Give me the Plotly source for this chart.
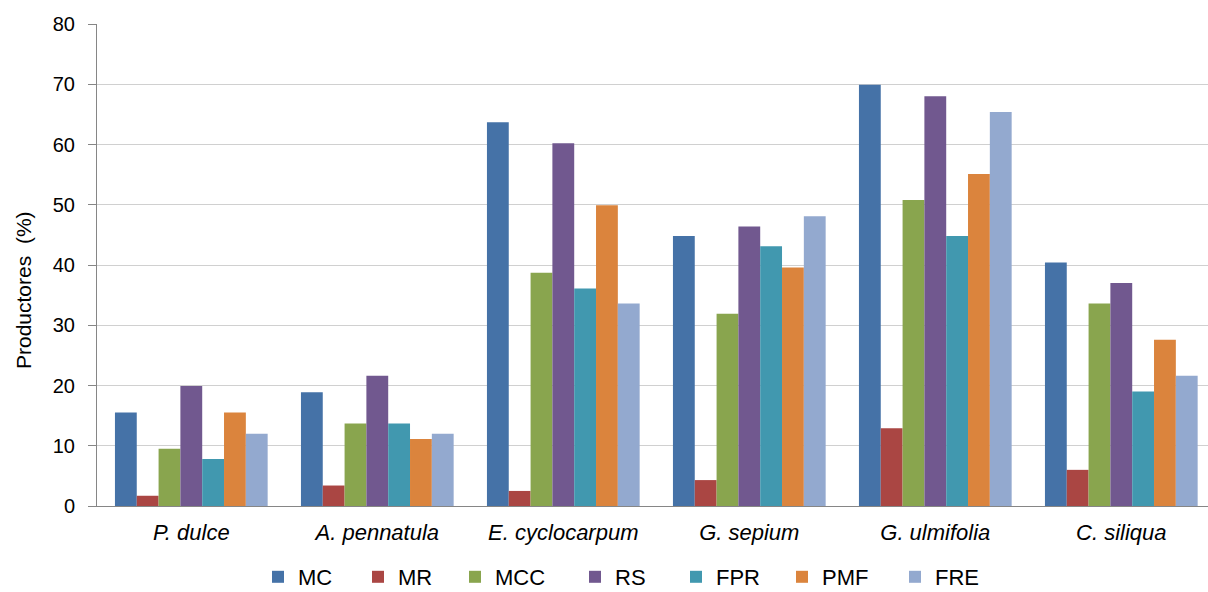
import plotly.graph_objects as go

species = ["P. dulce", "A. pennatula", "E. cyclocarpum", "G. sepium", "G. ulmifolia", "C. siliqua"]

mc = [15.5, 18.9, 63.7, 44.8, 69.9, 40.4]
mr = [1.7, 3.4, 2.5, 4.3, 12.9, 6.0]
mcc = [9.5, 13.7, 38.7, 31.9, 50.8, 33.6]
rs = [19.9, 21.6, 60.2, 46.4, 68.0, 37.0]
fpr = [7.8, 13.7, 36.1, 43.1, 44.8, 19.0]
pmf = [15.5, 11.1, 49.9, 39.6, 55.1, 27.6]
fre = [12.0, 12.0, 33.6, 48.1, 65.4, 21.6]

series_names = ["MC", "MR", "MCC", "RS", "FPR", "PMF", "FRE"]
series_values = [mc, mr, mcc, rs, fpr, pmf, fre]
series_colors = ["#4572A7", "#AA4643", "#89A54E", "#71588F", "#4198AF", "#DB843D", "#93A9CF"]

y_ticks = [0, 10, 20, 30, 40, 50, 60, 70, 80]

W, H = 1208, 592
# left edge (px) of each legend entry's text along the bottom row
legend_text_px = [298, 398, 495, 615, 716, 822, 935]

fig = go.Figure()
legend_layouts = {}
for i, (name, vals, color) in enumerate(zip(series_names, series_values, series_colors)):
    lg = "legend" if i == 0 else f"legend{i + 1}"
    fig.add_trace(go.Bar(name=name, x=species, y=vals, legend=lg,
                         marker=dict(color=color, line=dict(width=0))))
    legend_layouts[lg] = dict(
        orientation="h",
        xref="container", yref="container",
        x=(legend_text_px[i] - 40) / W, xanchor="left",
        y=1 - 577 / H, yanchor="middle",
        bgcolor="rgba(0,0,0,0)",
        font=dict(size=22, color="#000000"),
    )

fig.update_layout(
    width=W,
    height=H,
    barmode="group",
    bargap=0.179,
    bargroupgap=0,
    plot_bgcolor="white",
    paper_bgcolor="white",
    margin=dict(l=97, r=0, t=24, b=86, autoexpand=False),
    font=dict(family="Liberation Sans, Arial, sans-serif", size=20, color="#000000"),
    showlegend=True,
    **legend_layouts,
)

fig.add_annotation(
    text="Productores  (%)",
    xref="paper", yref="paper",
    x=(23 - 97) / 1111, y=(506 - 290) / 482,
    textangle=-90,
    showarrow=False,
    font=dict(size=21, color="#000000"),
    xanchor="center", yanchor="middle",
)

fig.update_xaxes(
    tickvals=species,
    ticktext=["<i>" + s + "</i>" for s in species],
    range=[-0.507, -0.507 + 1111 / 186],
    showline=True,
    linecolor="#868686",
    linewidth=1,
    ticks="",
    ticklabelstandoff=7,
    tickfont=dict(size=22),
    showgrid=False,
)

fig.update_yaxes(
    range=[0, 80],
    tickvals=y_ticks,
    showline=True,
    linecolor="#868686",
    linewidth=1,
    ticks="outside",
    ticklen=8,
    tickcolor="#868686",
    ticklabelstandoff=9,
    showgrid=True,
    gridcolor="#d0d0d0",
    gridwidth=1,
    zeroline=False,
    tickfont=dict(size=20),
)

fig.write_html("out.html")
